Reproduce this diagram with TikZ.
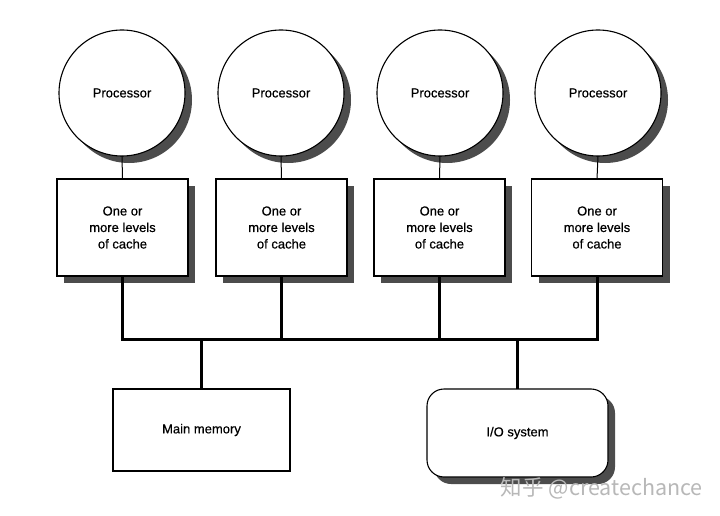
\documentclass[tikz,border=0pt]{standalone}
\usepackage{fontspec}
\setmainfont[FakeBold=0.5]{Liberation Sans}
\newfontfamily\cjkfont{Noto Sans CJK SC}
\usetikzlibrary{shadows}
\begin{document}
\begin{tikzpicture}[x=1pt,y=-1pt,
  shad/.style={drop shadow={shadow xshift=7pt,shadow yshift=-7pt,fill=black!70,opacity=1}},
  proc/.style={circle,draw=black,line width=1.1pt,fill=white,minimum size=126pt,inner sep=0pt,outer sep=0pt,shad,font=\fontsize{13}{16}\selectfont},
  cachebox/.style={rectangle,draw=black,line width=1.1pt,fill=white,minimum width=131pt,minimum height=97pt,inner sep=0pt,outer sep=0pt,shad,align=center,font=\fontsize{13}{16.5}\selectfont},
  membox/.style={rectangle,draw=black,line width=1.1pt,fill=white,minimum width=177pt,minimum height=82pt,inner sep=0pt,outer sep=0pt,font=\fontsize{13}{16}\selectfont},
  iobox/.style={rectangle,rounded corners=17pt,draw=black,line width=1.1pt,fill=white,minimum width=181pt,minimum height=88pt,inner sep=0pt,outer sep=0pt,shad,font=\fontsize{13}{16}\selectfont},
  thinline/.style={line width=1pt},
  busline/.style={line width=3pt,line join=miter,line cap=butt}]
\useasboundingbox[fill=white] (0,0) rectangle (720,516);
% processors
\node[proc] (p1) at (122,93) {Processor};
\node[proc] (p2) at (281,93) {Processor};
\node[proc] (p3) at (440,93) {Processor};
\node[proc] (p4) at (598,93) {Processor};
% caches
\node[cachebox] (c1) at (122.5,227.5) {\raisebox{-2pt}{\parbox{120pt}{\centering One or\\more levels\\of cache}}};
\node[cachebox] (c2) at (281.5,227.5) {\raisebox{-2pt}{\parbox{120pt}{\centering One or\\more levels\\of cache}}};
\node[cachebox] (c3) at (439.5,227.5) {\raisebox{-2pt}{\parbox{120pt}{\centering One or\\more levels\\of cache}}};
\node[cachebox] (c4) at (597,227.5) {\raisebox{-2pt}{\parbox{120pt}{\centering One or\\more levels\\of cache}}};
% memory and IO
\node[membox] (mem) at (201.5,430) {Main memory};
\node[iobox] (io) at (517.5,433) {I/O system};
% links
\draw[thinline] (p1.south) -- (c1.north);
\draw[thinline] (p2.south) -- (c2.north);
\draw[thinline] (p3.south) -- (c3.north);
\draw[thinline] (p4.south) -- (c4.north);
\coordinate (bus) at (0,339);
\draw[busline] (c1.south) -- (c1.south |- bus) -- (c4.south |- bus) -- (c4.south);
\draw[busline] (c2.south) -- (c2.south |- bus);
\draw[busline] (c3.south) -- (c3.south |- bus);
\draw[busline] (mem.north) -- (mem.north |- bus);
\draw[busline] (io.north) -- (io.north |- bus);
% watermark
\node[anchor=east,inner sep=0pt,text=black!28,font=\cjkfont\fontsize{21.5}{24}\selectfont] (wm) at (703,488) {知乎 @createchance};
\end{tikzpicture}
\end{document}
